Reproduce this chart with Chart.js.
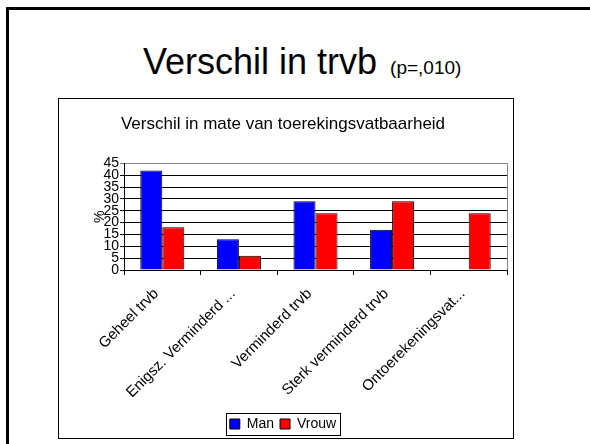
<!DOCTYPE html>
<html>
<head>
<meta charset="utf-8">
<script src="https://cdn.jsdelivr.net/npm/chart.js@4/dist/chart.umd.min.js"></script>
<style>
   body { margin: 0; background: #fff; width: 590px; height: 444px; overflow: hidden; position: relative; font-family: "Liberation Sans", Arial, sans-serif; }
   #slide { position: absolute; left: 6px; top: 7px; width: 700px; height: 600px; border-left: 3px solid #000; border-top: 3px solid #000; }
   #title { position: absolute; left: 143px; top: 44px; font-size: 36px; line-height: 36px; white-space: nowrap; color: #000; }
   #title span { font-size: 19px; margin-left: 3px; }
   #box { position: absolute; left: 58px; top: 98px; width: 456px; height: 341px; box-sizing: border-box; border: 1px solid #000; background: #fff; }
   #wrap { position: relative; width: 454px; height: 342px; }
</style>
</head>
<body>
<div id="slide"></div>
<div id="title">Verschil in trvb <span>(p=,010)</span></div>
<div id="box"><div id="wrap"><canvas id="chart"></canvas></div></div>
<script>
// Data
const categories = ["Geheel trvb", "Enigsz. Verminderd ...", "Verminderd trvb", "Sterk verminderd trvb", "Ontoerekeningsvat..."];
const manValues = [42, 13, 29, 17, 0];
const vrouwValues = [18, 6, 24, 29, 24];
const yTicks = [0, 5, 10, 15, 20, 25, 30, 35, 40, 45];

const fontFamily = '"Liberation Sans", Arial, sans-serif';

// gray frame on the right of the plot area + border round the legend
const framePlugin = {
   id: 'framePlugin',
   beforeDatasetsDraw(chart) {
      const { ctx, chartArea } = chart;
      ctx.save();
      ctx.strokeStyle = '#808080';
      ctx.lineWidth = 1;
      ctx.beginPath();
      ctx.moveTo(Math.round(chartArea.right) + 0.5, chartArea.top);
      ctx.lineTo(Math.round(chartArea.right) + 0.5, chartArea.bottom);
      ctx.stroke();
      ctx.restore();
   },
   afterDraw(chart) {
      const boxes = chart.legend.legendHitBoxes;
      if (!boxes || !boxes.length) return;
      const ctx = chart.ctx;
      let left = Infinity, right = -Infinity, top = Infinity, bottom = -Infinity;
      boxes.forEach(b => {
         left = Math.min(left, b.left);
         right = Math.max(right, b.left + b.width);
         top = Math.min(top, b.top);
         bottom = Math.max(bottom, b.top + b.height);
      });
      ctx.save();
      ctx.strokeStyle = '#000';
      ctx.lineWidth = 1;
      ctx.strokeRect(Math.round(left - 4) + 0.5, Math.round(top - 4) + 0.5, Math.round(right - left + 8), Math.round(bottom - top + 8));
      ctx.restore();
   }
};

new Chart(document.getElementById('chart'), {
   type: 'bar',
   data: {
      labels: categories,
      datasets: [
         {
            label: 'Man',
            data: manValues,
            backgroundColor: '#0000ff',
            borderColor: '#000',
            borderWidth: 1,
            categoryPercentage: 0.575,
            barPercentage: 1
         },
         {
            label: 'Vrouw',
            data: vrouwValues,
            backgroundColor: '#ff0000',
            borderColor: '#000',
            borderWidth: 1,
            categoryPercentage: 0.575,
            barPercentage: 1
         }
      ]
   },
   options: {
      responsive: true,
      maintainAspectRatio: false,
      animation: false,
      layout: { padding: { left: 0, right: 6, top: 0, bottom: 0 } },
      plugins: {
         title: {
            display: true,
            text: 'Verschil in mate van toerekingsvatbaarheid',
            color: '#000',
            font: { family: fontFamily, size: 17, weight: 'normal' },
            padding: { top: 15, bottom: 29 }
         },
         legend: {
            position: 'bottom',
            labels: {
               color: '#000',
               font: { family: fontFamily, size: 14 },
               boxWidth: 10,
               boxHeight: 10,
               padding: 6
            }
         },
         tooltip: { enabled: false }
      },
      scales: {
         x: {
            offset: true,
            grid: { display: true, drawOnChartArea: false, drawTicks: true, tickLength: 5, color: '#000', offset: true },
            border: { color: '#000' },
            ticks: {
               color: '#000',
               font: { family: fontFamily, size: 15 },
               maxRotation: 45,
               minRotation: 45,
               autoSkip: false,
               padding: 10,
               labelOffset: -6
            },
            afterFit(scale) { scale.height = 141; }
         },
         y: {
            min: 0,
            max: 45,
            afterBuildTicks(scale) { scale.ticks = yTicks.map(v => ({ value: v })); },
            grid: {
               color: ctx => (ctx.tick && ctx.tick.value === 45 ? '#808080' : '#000'),
               tickLength: 4
            },
            border: { color: '#000' },
            ticks: {
               color: '#000',
               font: { family: fontFamily, size: 14 },
               padding: 1,
               autoSkip: false
            },
            title: {
               display: true,
               text: '%',
               color: '#000',
               font: { family: fontFamily, size: 14 },
               padding: { top: 33, bottom: 0 }
            },
            afterFit(scale) { scale.width = 65; }
         }
      }
   },
   plugins: [framePlugin]
});
</script>
</body>
</html>
